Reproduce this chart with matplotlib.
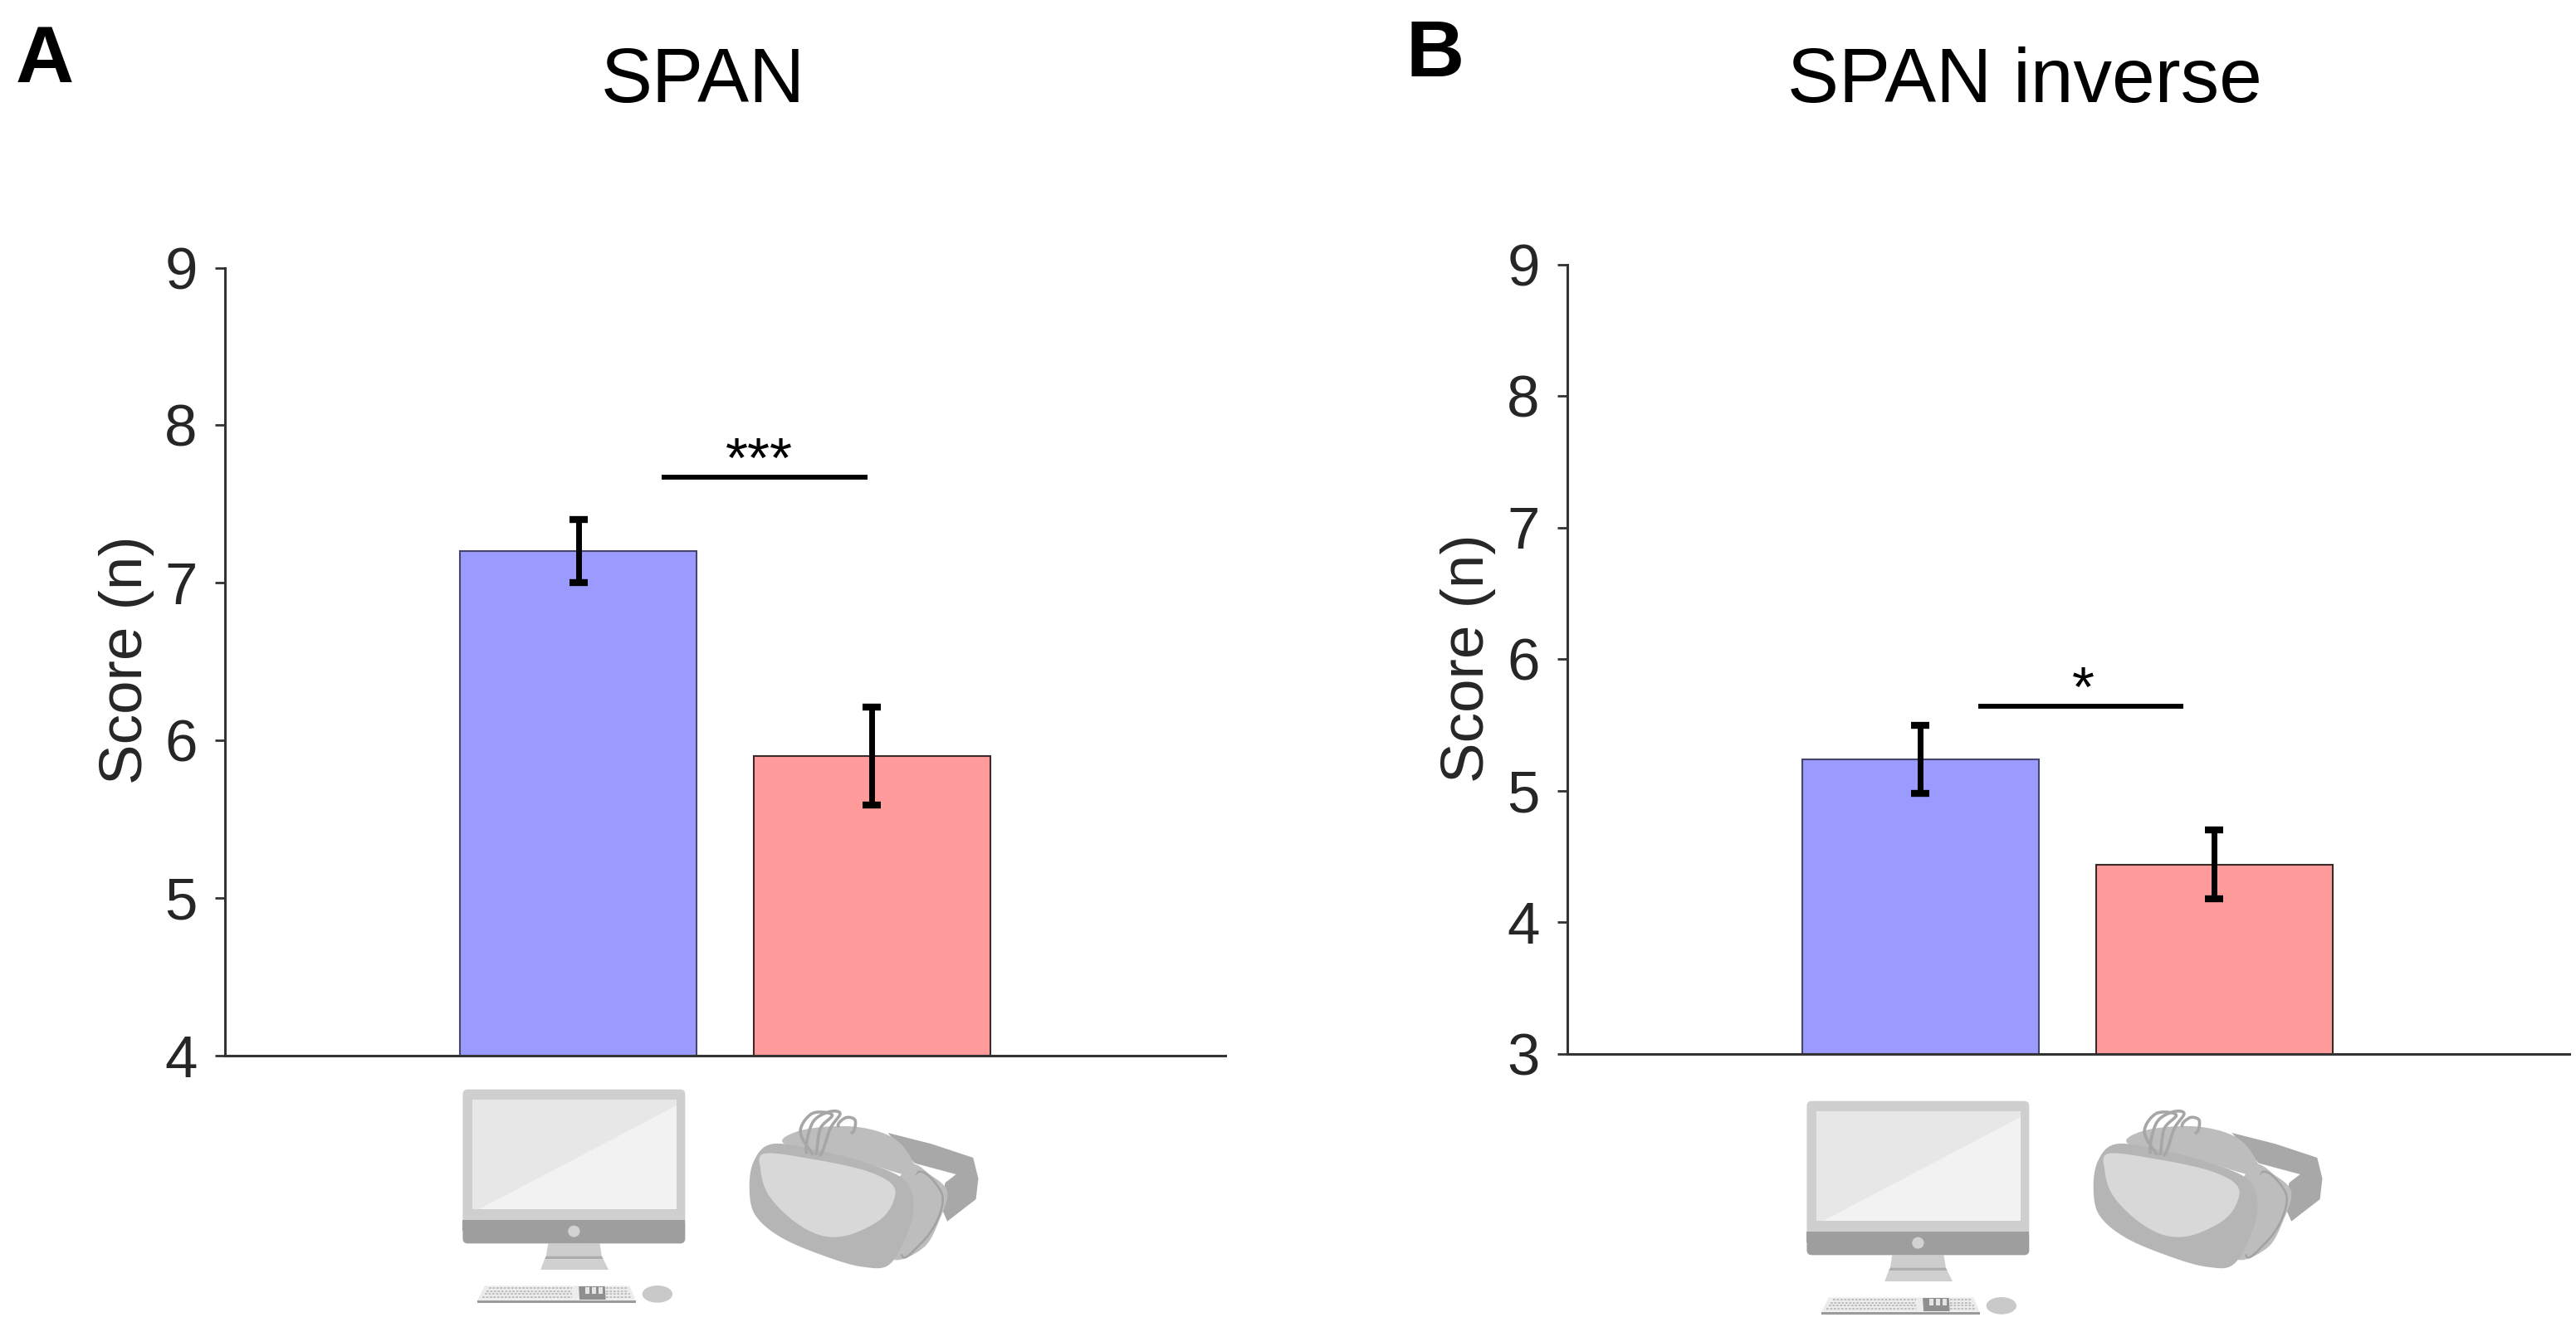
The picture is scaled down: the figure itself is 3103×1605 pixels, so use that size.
import numpy as np
import matplotlib
matplotlib.use("Agg")
import matplotlib.pyplot as plt
from matplotlib.patches import Polygon, Ellipse, FancyBboxPatch

plt.rcParams['font.family'] = ['Liberation Sans', 'DejaVu Sans']

W, H = 3103, 1605

conditions = ["Screen", "Virtual reality"]
positions = [0, 1]
bar_colors = ["#9b9bff", "#ff9b9b"]
edge_colors = ["#45456e", "#3a2a2a"]

span_scores = [7.2, 5.9]
span_errors = [0.2, 0.31]
span_ticks = [4, 5, 6, 7, 8, 9]

inverse_scores = [5.24, 4.44]
inverse_errors = [0.26, 0.26]
inverse_ticks = [3, 4, 5, 6, 7, 8, 9]

span_sig = [0.285, 0.985, 7.67, 0.616, "***"]
inverse_sig = [0.196, 0.894, 5.64, 0.553, "*"]

INK = "#262626"


def add_panel(box, scores, errors, ticks, sig, title, title_xy, ylab_xy, letter, letter_xy, xlim):
    x0, y0, x1, y1 = box
    ax = fig.add_axes([x0 / W, 1 - y1 / H, (x1 - x0) / W, (y1 - y0) / H])
    ax.bar(positions, scores, width=0.803, color=bar_colors, edgecolor=edge_colors,
           linewidth=1.5, zorder=2)
    ax.errorbar(positions, scores, yerr=errors, fmt="none", ecolor="black",
                elinewidth=5, capsize=8, capthick=6, zorder=3)
    ax.set_xlim(*xlim)
    ax.set_ylim(ticks[0], ticks[-1])
    ax.set_yticks(ticks)
    ax.set_xticks([])
    ax.tick_params(axis="y", length=9, width=2, color="#333333", labelsize=51,
                   labelcolor=INK, pad=15)
    for s in ("top", "right"):
        ax.spines[s].set_visible(False)
    for s in ("left", "bottom"):
        ax.spines[s].set_linewidth(2.2)
        ax.spines[s].set_color("#333333")
    ax.patch.set_alpha(0)
    ax.plot(sig[:2], [sig[2], sig[2]], color="black", lw=4.2, solid_capstyle="butt",
            clip_on=False, zorder=4)
    ax.annotate(sig[4], (sig[3], sig[2]), xytext=(0, -10), textcoords="offset points",
                ha="center", va="bottom", fontsize=50, color="black")
    fig.text(title_xy[0] / W, 1 - title_xy[1] / H, title, ha="center", va="center",
             fontsize=67, color="black")
    fig.text(ylab_xy[0] / W, 1 - ylab_xy[1] / H, "Score (n)", rotation=90, ha="center",
             va="center", fontsize=52.5, color=INK)
    fig.text(letter_xy[0] / W, 1 - letter_xy[1] / H, letter, ha="center", va="center",
             fontsize=70, fontweight="bold", color="black")
    return ax


def smooth(pts, n=14):
    p = np.asarray(pts, float)
    m = len(p)
    out = []
    for i in range(m):
        a, b, c, d = p[(i - 1) % m], p[i], p[(i + 1) % m], p[(i + 2) % m]
        for t in np.linspace(0, 1, n, endpoint=False):
            out.append(0.5 * ((2 * b) + (c - a) * t + (2 * a - 5 * b + 4 * c - d) * t ** 2
                              + (3 * b - a - 3 * c + d) * t ** 3))
    return np.array(out)


SX, SY = 1 / 2.09, 1 / 3.0


def monitor(ov, ox, oy):
    T = lambda x, y: (ox + x * SX, oy + y * SY)
    def poly(pts, c, z=5):
        ov.add_patch(Polygon([T(*q) for q in pts], closed=True, fc=c, ec="none", zorder=z))
    def rrect(x0, y0, x1, y1, c, r=6, z=5):
        a = T(x0, y0); b = T(x1, y1)
        ov.add_patch(FancyBboxPatch((a[0] + r, a[1] + r), b[0] - a[0] - 2 * r, b[1] - a[1] - 2 * r,
                                    boxstyle=f"round,pad={r},rounding_size={r}",
                                    fc=c, ec="none", zorder=z))
    rrect(120, 188, 680, 690, "#cfcfcf")
    poly([(145, 225), (658, 225), (658, 622), (145, 622)], "#e7e7e7", 6)
    poly([(658, 245), (658, 622), (160, 622)], "#f2f2f2", 7)
    rrect(120, 660, 680, 745, "#9e9e9e", z=6)
    poly([(120, 660), (680, 660), (680, 700), (120, 700)], "#9e9e9e", 6)
    ov.add_patch(Ellipse(T(400, 701), 30 * SX, 42 * SY, fc="#d2d2d2", ec="none", zorder=7))
    poly([(335, 745), (465, 745), (470, 790), (330, 790)], "#cdcdcd")
    poly([(330, 790), (470, 790), (474, 802), (326, 802)], "#adadad")
    poly([(326, 802), (474, 802), (487, 840), (316, 840)], "#d0d0d0")
    poly([(175, 898), (540, 898), (555, 950), (157, 950)], "#ececec")
    poly([(157, 950), (555, 950), (555, 960), (157, 960)], "#9a9a9a")
    for r in range(4):
        yy = 906 + r * 11
        ov.plot(*zip(T(185 - r * 5, yy), T(395, yy)), color="#bdbdbd", lw=1.4, ls=(0, (1.4, 0.9)), zorder=6)
        ov.plot(*zip(T(480, yy), T(535 + r * 3, yy)), color="#bdbdbd", lw=1.4, ls=(0, (1.4, 0.9)), zorder=6)
    poly([(412, 900), (478, 900), (480, 948), (414, 948)], "#8f8f8f", 6)
    for xx in (428, 445, 462):
        poly([(xx, 902), (xx + 10, 902), (xx + 10, 928), (xx, 928)], "#e4e4e4", 7)
    ov.add_patch(Ellipse(T(610, 928), 76 * SX, 62 * SY, angle=0, fc="#c9c9c9", ec="none", zorder=5))


def headset(ov, ox, oy):
    T = lambda q: np.column_stack([ox + np.asarray(q, float)[:, 0] * SX,
                                   oy + np.asarray(q, float)[:, 1] * SY])
    def blob(pts, c, z, soft=True):
        q = smooth(pts) if soft else np.asarray(pts, float)
        ov.add_patch(Polygon(T(q), closed=True, fc=c, ec="none", zorder=z))
    blob([(1190, 345), (1300, 385), (1405, 435), (1418, 510), (1412, 585), (1340, 665),
          (1320, 600), (1335, 525), (1362, 495), (1258, 455)], "#a8a8a8", 5, soft=False)
    blob([(1240, 465), (1300, 500), (1340, 560), (1320, 660), (1280, 760), (1200, 800), (1180, 650)],
         "#bdbdbd", 6)
    ov.plot(*T(smooth([(1260, 495), (1325, 560), (1315, 660), (1270, 750), (1225, 780)])[:56]).T,
            color="#a2a2a2", lw=1.8, zorder=7)
    blob([(930, 385), (975, 335), (1100, 322), (1200, 360), (1250, 440), (1250, 500), (1100, 440)],
         "#bdbdbd", 7)
    blob([(900, 385), (1020, 410), (1150, 460), (1235, 520), (1255, 620), (1230, 740), (1190, 825),
          (1130, 830), (1050, 800), (930, 730), (860, 650), (842, 560), (852, 450)], "#b5b5b5", 8)
    blob([(880, 420), (1000, 440), (1130, 480), (1200, 530), (1205, 590), (1170, 660), (1090, 715),
          (1020, 715), (950, 660), (890, 570), (870, 480)], "#d8d8d8", 9)
    for loop in ([(1000, 420), (970, 340), (1000, 275), (1050, 280), (1020, 330), (1010, 420)],
                 [(1020, 425), (1045, 330), (1070, 275), (1040, 270), (1000, 310), (985, 415)],
                 [(1065, 320), (1085, 290), (1108, 300), (1100, 345)]):
        ov.plot(*T(smooth(loop)[:-13]).T, color="#a6a6a6", lw=2.6, zorder=10)


fig = plt.figure(figsize=(W / 100, H / 100), dpi=100, facecolor="white")

add_panel((271, 322.6, 1476, 1272), span_scores, span_errors, span_ticks, span_sig, "SPAN",
          (847, 99), (152, 795), "A", (54, 74), (-1.202, 2.202))
add_panel((1888, 318.6, 3095, 1270), inverse_scores, inverse_errors, inverse_ticks, inverse_sig,
          "SPAN inverse", (2439, 99), (1769, 793), "B", (1729, 67), (-1.202, 2.208))

overlay = fig.add_axes([0, 0, 1, 1], zorder=10)
overlay.set_xlim(0, W)
overlay.set_ylim(H, 0)
overlay.axis("off")
overlay.patch.set_alpha(0)
monitor(overlay, 500, 1250)
headset(overlay, 500, 1250)
monitor(overlay, 2119, 1264)
headset(overlay, 2119, 1250)

fig.savefig("out.png", dpi=100, facecolor="white")
